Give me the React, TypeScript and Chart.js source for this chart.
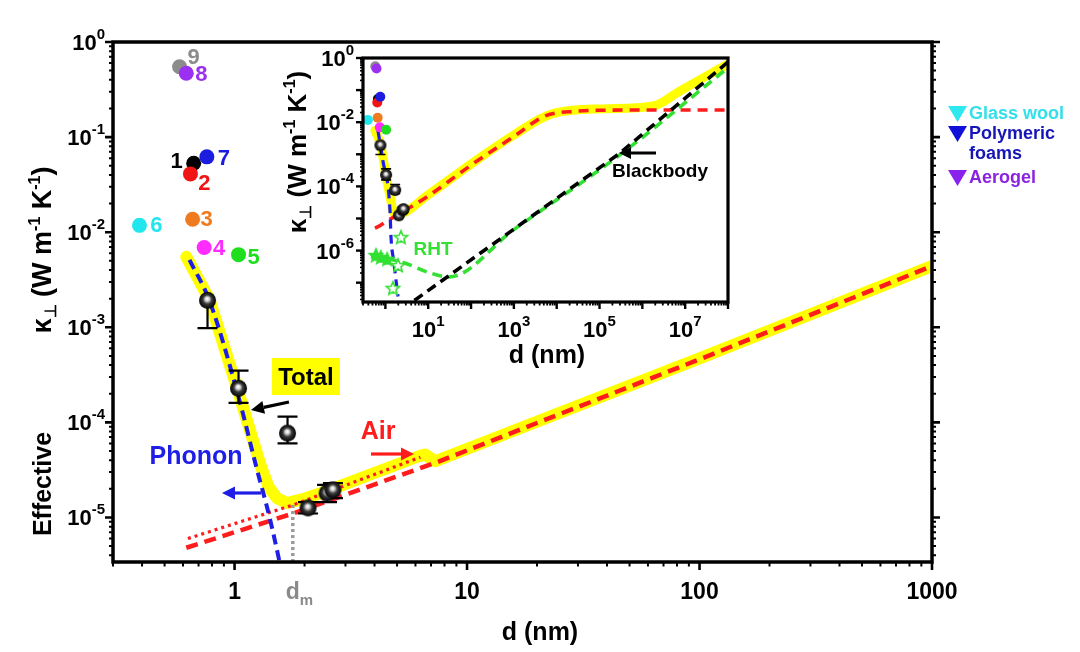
import React, { useEffect, useRef } from 'react';
import { Chart, registerables } from 'chart.js';

Chart.register(...registerables);

const FONT = '"Liberation Sans", Arial, Helvetica, sans-serif';

// ---------------- Main panel data ----------------
// numbered reference materials
const refLabels = ['9', '8', '1', '2', '7', '3', '6', '4', '5'];
const refD = [0.58, 0.62, 0.667, 0.646, 0.76, 0.66, 0.39, 0.74, 1.04];
const refK = [0.55, 0.47, 0.053, 0.041, 0.062, 0.0137, 0.0118, 0.0069, 0.0058];
const refColors = ['#8c8c8c', '#9b30f0', '#000000', '#f01414', '#1c1ce0', '#f07a1e', '#22e6ee', '#ff2cff', '#1ede1e'];

// measured samples (spheres) with error bars
const measD = [0.765, 1.04, 1.69, 2.07, 2.5, 2.65];
const measK = [1.92e-3, 2.28e-4, 7.7e-5, 1.26e-5, 1.8e-5, 1.95e-5];
const measLo = [9.8e-4, 1.6e-4, 6.0e-5, 1.1e-5, 1.45e-5, 1.6e-5];
const measHi = [1.92e-3, 3.5e-4, 1.15e-4, 1.45e-5, 2.2e-5, 2.3e-5];

// total (yellow)
const totalD = [0.62, 0.78, 1.05, 1.2, 1.3, 1.4, 1.52, 1.68, 1.95, 2.5, 6.2, 6.6, 7.3, 100, 1000];
const totalK = [5.5e-3, 1.95e-3, 1.9e-4, 6.5e-5, 3.4e-5, 2.1e-5, 1.6e-5, 1.42e-5, 1.55e-5, 1.9e-5, 4.4e-5, 4.6e-5, 3.9e-5, 4.7e-4, 4.4e-3];
// air (red dashed)
const airD = [0.62, 1.78, 7.4, 100, 1000];
const airK = [4.8e-6, 1.1e-5, 3.8e-5, 4.6e-4, 4.4e-3];
// air, alternative (red dotted)
const airDotD = [0.63, 1.78, 6.3];
const airDotK = [6.0e-6, 1.35e-5, 4.3e-5];
// phonon (blue dashed)
const phononD = [0.64, 0.78, 1.05, 1.24, 1.415, 1.6];
const phononK = [5.1e-3, 1.9e-3, 1.7e-4, 3.4e-5, 1.0e-5, 2.6e-6];
// d_m marker
const DM = 1.78;
const dmK = [1.35e-5, 3.4e-6];

const mainXLabels = [1, 10, 100, 1000];
const mainYExp = [0, -1, -2, -3, -4, -5];

// ---------------- Inset data ----------------
const inTotalD = [0.57, 0.78, 1.05, 1.3, 1.6, 2.0, 10, 100, 1000, 8000, 1.2e5, 1.8e6, 7.6e6, 1e8];
const inTotalK = [5.5e-3, 1.9e-3, 1.9e-4, 4.5e-5, 1.45e-5, 1.4e-5, 5.5e-5, 5e-4, 4e-3, 1.85e-2, 2.6e-2, 3.2e-2, 9.5e-2, 0.65];
const inAirD = [0.57, 0.75, 1.2, 2.0, 10, 100, 1000, 5600, 3e4, 1e5, 1e6, 1e8];
const inAirK = [5e-6, 6e-6, 9e-6, 1.35e-5, 5e-5, 4.6e-4, 3.6e-3, 1.6e-2, 2.2e-2, 2.35e-2, 2.4e-2, 2.4e-2];
const inBlackD = [4.76, 2.95e5, 1e8];
const inBlackK = [2.8e-8, 1.07e-3, 0.75];
const inRhtD = [0.46, 2.3, 10, 30, 1000, 2.95e5, 1e8];
const inRhtK = [6.4e-7, 4.5e-7, 2.1e-7, 1.5e-7, 4.5e-6, 9.5e-4, 0.5];
const inPhononD = [0.67, 0.87, 1.28, 1.35, 1.58, 1.97];
const inPhononK = [5.5e-3, 6.5e-4, 1.8e-5, 2.7e-6, 4.2e-7, 3.7e-8];
const rhtOpenD = [2.3, 1.97, 1.5];
const rhtOpenK = [2.7e-6, 3.6e-7, 7e-8];
const rhtFillD = [0.6, 0.78, 1.1];
const rhtFillK = [7.4e-7, 6.4e-7, 5.6e-7];

const inXExp = [1, 3, 5, 7];
const inYExp = [0, -2, -4, -6];

// ---------------- styles ----------------
const YELLOW = '#ffff00';
const RED = '#ff1c1c';
const BLUE = '#1e1ee6';
const GREEN = '#33e033';
// label offsets (px) for the numbered dots
const refLabelDX = [14, 15, -17, 14, 17, 14, 17, 15, 15];
const refLabelDY = [-10, 1, -2, 9, 1, 0, 0, 0, 2];

function pts(xs: number[], ys: number[]) {
  return xs.map((x, i) => ({ x, y: ys[i] }));
}

type Seg = { t: string; s: number; dy?: number; c?: string };
const font = (s: number) => `bold ${s}px ${FONT}`;

function richWidth(ctx: CanvasRenderingContext2D, segs: Seg[]) {
  let w = 0;
  for (const g of segs) {
    ctx.font = font(g.s);
    w += ctx.measureText(g.t).width;
  }
  return w;
}

function drawRich(ctx: CanvasRenderingContext2D, x: number, y: number, segs: Seg[], align: 'left' | 'center' | 'right', color: string) {
  const w = richWidth(ctx, segs);
  let cx = align === 'left' ? x : align === 'center' ? x - w / 2 : x - w;
  ctx.textAlign = 'left';
  ctx.textBaseline = 'alphabetic';
  for (const g of segs) {
    ctx.font = font(g.s);
    ctx.fillStyle = g.c || color;
    ctx.fillText(g.t, cx, y + (g.dy || 0));
    cx += ctx.measureText(g.t).width;
  }
}

function drawRotated(ctx: CanvasRenderingContext2D, cx: number, cy: number, segs: Seg[], base: number) {
  ctx.save();
  ctx.translate(cx, cy);
  ctx.rotate(-Math.PI / 2);
  drawRich(ctx, 0, base, segs, 'center', '#000');
  ctx.restore();
}

function powSegs(e: number, big: number, small: number, raise: number): Seg[] {
  return [
    { t: '10', s: big },
    { t: e < 0 ? '-' + Math.abs(e) : String(e), s: small, dy: -raise },
  ];
}

function logTicks(min: number, max: number) {
  const out: { v: number; major: boolean }[] = [];
  for (let e = Math.floor(Math.log10(min)); e <= Math.ceil(Math.log10(max)); e++) {
    for (let m = 1; m <= 9; m++) {
      const v = m * Math.pow(10, e);
      if (v >= min * 0.999 && v <= max * 1.001) out.push({ v, major: m === 1 });
    }
  }
  return out;
}

function arrow(ctx: CanvasRenderingContext2D, x1: number, y1: number, x2: number, y2: number, color: string, lw: number, hl: number, hw: number) {
  const a = Math.atan2(y2 - y1, x2 - x1);
  const bx = x2 - hl * Math.cos(a);
  const by = y2 - hl * Math.sin(a);
  ctx.strokeStyle = color;
  ctx.lineWidth = lw;
  ctx.setLineDash([]);
  ctx.beginPath();
  ctx.moveTo(x1, y1);
  ctx.lineTo(bx, by);
  ctx.stroke();
  ctx.fillStyle = color;
  ctx.beginPath();
  ctx.moveTo(x2, y2);
  ctx.lineTo(bx + hw * Math.sin(a), by - hw * Math.cos(a));
  ctx.lineTo(bx - hw * Math.sin(a), by + hw * Math.cos(a));
  ctx.closePath();
  ctx.fill();
}

function makeSphere(r: number) {
  const c = document.createElement('canvas');
  const s = Math.ceil(r * 2) + 2;
  c.width = s;
  c.height = s;
  const g = c.getContext('2d')!;
  const cx = s / 2;
  const cy = s / 2;
  const grad = g.createRadialGradient(cx - r * 0.05, cy - r * 0.2, r * 0.05, cx, cy, r);
  grad.addColorStop(0, '#ffffff');
  grad.addColorStop(0.22, '#cfcfcf');
  grad.addColorStop(0.5, '#3a3a3a');
  grad.addColorStop(1, '#000000');
  g.fillStyle = grad;
  g.beginPath();
  g.arc(cx, cy, r, 0, Math.PI * 2);
  g.fill();
  return c;
}

function makeStar(r: number, filled: boolean) {
  const c = document.createElement('canvas');
  const s = Math.ceil(r * 2) + 4;
  c.width = s;
  c.height = s;
  const g = c.getContext('2d')!;
  const cx = s / 2;
  const cy = s / 2 + 1;
  g.beginPath();
  for (let i = 0; i < 10; i++) {
    const rr = i % 2 === 0 ? r : r * 0.45;
    const ang = -Math.PI / 2 + (i * Math.PI) / 5;
    const px = cx + rr * Math.cos(ang);
    const py = cy + rr * Math.sin(ang);
    if (i === 0) g.moveTo(px, py);
    else g.lineTo(px, py);
  }
  g.closePath();
  g.lineWidth = 1.6;
  g.strokeStyle = GREEN;
  g.fillStyle = filled ? GREEN : '#ffffff';
  g.fill();
  g.stroke();
  return c;
}

function drawErrorBars(chart: any, cap: number, lw: number) {
  const { ctx, scales } = chart;
  const x = scales.x;
  const y = scales.y;
  ctx.save();
  ctx.strokeStyle = '#000';
  ctx.lineWidth = lw;
  ctx.setLineDash([]);
  for (let i = 0; i < measD.length; i++) {
    const px = x.getPixelForValue(measD[i]);
    const pLo = y.getPixelForValue(measLo[i]);
    const pHi = y.getPixelForValue(measHi[i]);
    ctx.beginPath();
    ctx.moveTo(px, pLo);
    ctx.lineTo(px, pHi);
    ctx.moveTo(px - cap, pLo);
    ctx.lineTo(px + cap, pLo);
    if (measHi[i] > measK[i]) {
      ctx.moveTo(px - cap, pHi);
      ctx.lineTo(px + cap, pHi);
    }
    ctx.stroke();
  }
  ctx.restore();
}

const mainPlugin = {
  id: 'mainDecor',
  beforeDatasetDraw(chart: any, args: any) {
    if (chart.data.datasets[args.index].label === 'measured') drawErrorBars(chart, 10, 2.2);
  },
  afterDatasetsDraw(chart: any) {
    const { ctx, scales } = chart;
    ctx.save();
    for (let i = 0; i < refLabels.length; i++) {
      const px = scales.x.getPixelForValue(refD[i]) + refLabelDX[i];
      const py = scales.y.getPixelForValue(refK[i]) + refLabelDY[i];
      ctx.font = font(22);
      ctx.fillStyle = refColors[i];
      ctx.textAlign = 'center';
      ctx.textBaseline = 'middle';
      ctx.fillText(refLabels[i], px, py + 1);
    }
    ctx.restore();
  },
  afterDraw(chart: any) {
    const { ctx, chartArea, scales } = chart;
    const { left, top, right, bottom } = chartArea;
    const x = scales.x;
    const y = scales.y;
    ctx.save();
    ctx.setLineDash([]);
    ctx.strokeStyle = '#000';
    ctx.lineWidth = 3.5;
    ctx.strokeRect(left, top, right - left, bottom - top);
    // x ticks
    for (const t of logTicks(0.3, 1000)) {
      const px = x.getPixelForValue(t.v);
      ctx.lineWidth = t.major ? 2.6 : 2;
      ctx.beginPath();
      ctx.moveTo(px, bottom);
      ctx.lineTo(px, bottom + (t.major ? 8 : 4.5));
      ctx.stroke();
    }
    // y ticks (left & right)
    for (const t of logTicks(3.4e-6, 1)) {
      const py = y.getPixelForValue(t.v);
      ctx.lineWidth = t.major ? 2.6 : 2;
      const len = t.major ? 8 : 4;
      ctx.beginPath();
      ctx.moveTo(left, py);
      ctx.lineTo(left - len, py);
      ctx.moveTo(right, py);
      ctx.lineTo(right + len, py);
      ctx.stroke();
    }
    // x tick labels
    ctx.fillStyle = '#000';
    ctx.font = font(23);
    ctx.textAlign = 'center';
    ctx.textBaseline = 'alphabetic';
    for (const v of mainXLabels) ctx.fillText(String(v), x.getPixelForValue(v), bottom + 37);
    // y tick labels
    for (const e of mainYExp) {
      const py = y.getPixelForValue(Math.pow(10, e));
      drawRich(ctx, left - 8, py + 8, powSegs(e, 22, 15, 11), 'right', '#000');
    }
    // d_m label
    ctx.font = font(23);
    const dW = ctx.measureText('d').width;
    drawRich(ctx, x.getPixelForValue(DM) - dW / 2, bottom + 37, [{ t: 'd', s: 23 }, { t: 'm', s: 15, dy: 6 }], 'left', '#8a8a8a');
    // axis titles
    drawRich(ctx, 540, 640, [{ t: 'd (nm)', s: 25 }], 'center', '#000');
    drawRotated(ctx, 42, 484, [{ t: 'Effective', s: 25 }], 9);
    drawRotated(
      ctx,
      42,
      250,
      [
        { t: '\u03ba', s: 27 },
        { t: '\u22a5', s: 16, dy: 5 },
        { t: ' (W m', s: 27 },
        { t: '-1', s: 16, dy: -11 },
        { t: ' K', s: 27 },
        { t: '-1', s: 16, dy: -11 },
        { t: ')', s: 27 },
      ],
      9
    );
    // annotations
    ctx.fillStyle = YELLOW;
    ctx.fillRect(272, 358, 68, 37);
    drawRich(ctx, 306, 385, [{ t: 'Total', s: 24 }], 'center', '#000');
    arrow(ctx, 289, 402, 251, 410, '#000', 3.2, 13, 6.5);
    drawRich(ctx, 196, 464, [{ t: 'Phonon', s: 25 }], 'center', BLUE);
    arrow(ctx, 261, 493, 222, 493, BLUE, 3.2, 13, 6.5);
    drawRich(ctx, 378, 439, [{ t: 'Air', s: 25 }], 'center', RED);
    arrow(ctx, 371, 454, 414, 454, RED, 3.2, 13, 6.5);
    // right-side legend
    const legend = [
      { c: '#2ee8f0', tc: '#33e0ea', y: 113, lines: ['Glass wool'] },
      { c: '#1010d8', tc: '#1616b8', y: 133, lines: ['Polymeric', 'foams'] },
      { c: '#8a22ee', tc: '#8a22e0', y: 177, lines: ['Aerogel'] },
    ];
    for (const l of legend) {
      ctx.fillStyle = l.c;
      ctx.beginPath();
      ctx.moveTo(948, l.y - 7);
      ctx.lineTo(967, l.y - 7);
      ctx.lineTo(957.5, l.y + 9);
      ctx.closePath();
      ctx.fill();
      l.lines.forEach((t, i) => drawRich(ctx, 969, l.y + 6 + i * 20, [{ t, s: 18 }], 'left', l.tc));
    }
    ctx.restore();
  },
};

const insetPlugin = {
  id: 'insetDecor',
  beforeDatasetDraw(chart: any, args: any) {
    if (chart.data.datasets[args.index].label === 'measured') drawErrorBars(chart, 5, 1.6);
  },
  afterDraw(chart: any) {
    const { ctx, chartArea, scales } = chart;
    const { left, top, right, bottom } = chartArea;
    const x = scales.x;
    const y = scales.y;
    ctx.save();
    ctx.setLineDash([]);
    ctx.strokeStyle = '#000';
    ctx.lineWidth = 3.2;
    ctx.strokeRect(left, top, right - left, bottom - top);
    for (const t of logTicks(0.3, 1e8)) {
      const px = x.getPixelForValue(t.v);
      ctx.lineWidth = t.major ? 2.4 : 1.8;
      ctx.beginPath();
      ctx.moveTo(px, bottom);
      ctx.lineTo(px, bottom + (t.major ? 7 : 3.5));
      ctx.stroke();
    }
    for (const t of logTicks(2.5e-8, 1)) {
      const py = y.getPixelForValue(t.v);
      ctx.lineWidth = t.major ? 2.4 : 1.6;
      ctx.beginPath();
      ctx.moveTo(left, py);
      ctx.lineTo(left - (t.major ? 7 : 3), py);
      ctx.stroke();
    }
    for (const e of inXExp) {
      const px = x.getPixelForValue(Math.pow(10, e));
      drawRich(ctx, px, bottom + 35, powSegs(e, 22, 15, 11), 'center', '#000');
    }
    for (const e of inYExp) {
      const py = y.getPixelForValue(Math.pow(10, e));
      drawRich(ctx, left - 9, py + 8, powSegs(e, 22, 15, 11), 'right', '#000');
    }
    drawRich(ctx, 277, 323, [{ t: 'd (nm)', s: 25 }], 'center', '#000');
    drawRotated(
      ctx,
      27,
      112,
      [
        { t: '\u03ba', s: 26 },
        { t: '\u22a5', s: 16, dy: 5 },
        { t: ' (W m', s: 26 },
        { t: '-1', s: 16, dy: -11 },
        { t: ' K', s: 26 },
        { t: '-1', s: 16, dy: -11 },
        { t: ')', s: 26 },
      ],
      9
    );
    drawRich(ctx, 163, 215, [{ t: 'RHT', s: 19 }], 'center', GREEN);
    drawRich(ctx, 390, 137, [{ t: 'Blackbody', s: 19 }], 'center', '#000');
    arrow(ctx, 386, 113, 349, 113, '#000', 3, 12, 6);
    ctx.restore();
  },
};

function lineDs(label: string, xs: number[], ys: number[], color: string, width: number, dash: number[], order: number, smooth: boolean, cap: CanvasLineCap = 'butt') {
  return {
    label,
    data: pts(xs, ys),
    showLine: true,
    borderColor: color,
    borderWidth: width,
    borderDash: dash,
    borderCapStyle: cap,
    borderJoinStyle: 'round' as const,
    pointRadius: 0,
    cubicInterpolationMode: smooth ? ('monotone' as const) : ('default' as const),
    tension: 0,
    fill: false,
    order,
  };
}

export default function App() {
  const mainRef = useRef<HTMLCanvasElement>(null);
  const insetRef = useRef<HTMLCanvasElement>(null);

  useEffect(() => {
    const sphereBig = makeSphere(8.5);
    const sphereSmall = makeSphere(6);
    const starOpen = makeStar(7, false);
    const starFill = makeStar(7, true);

    const main = new Chart(mainRef.current!, {
      type: 'scatter',
      data: {
        datasets: [
          {
            label: 'refs',
            data: pts(refD, refK),
            pointRadius: 7.5,
            pointBackgroundColor: refColors,
            pointBorderColor: refColors,
            pointBorderWidth: 0,
            order: 0,
          } as any,
          { label: 'measured', data: pts(measD, measK), pointRadius: 8.5, pointStyle: sphereBig, order: 1 } as any,
          lineDs('dm', [DM, DM], dmK, '#9a9a9a', 3.5, [3, 3], 2, false),
          lineDs('phonon', phononD, phononK, BLUE, 4, [10, 6], 3, true),
          lineDs('air', airD, airK, RED, 4.5, [12, 7], 4, false),
          lineDs('airDot', airDotD, airDotK, RED, 3.2, [3, 4], 5, false),
          lineDs('total', totalD, totalK, YELLOW, 12, [], 6, false, 'round'),
        ],
      },
      options: {
        responsive: false,
        animation: false,
        events: [],
        layout: { padding: { left: 0, right: 148, top: 42, bottom: 0 } },
        plugins: { legend: { display: false }, tooltip: { enabled: false } },
        scales: {
          x: {
            type: 'logarithmic',
            min: 0.3,
            max: 1000,
            ticks: { display: false },
            grid: { display: false, drawTicks: false },
            border: { display: false },
            afterFit: (s: any) => {
              s.height = 90;
            },
          },
          y: {
            type: 'logarithmic',
            min: 3.4e-6,
            max: 1,
            ticks: { display: false },
            grid: { display: false, drawTicks: false },
            border: { display: false },
            afterFit: (s: any) => {
              s.width = 113;
            },
          },
        },
      } as any,
      plugins: [mainPlugin],
    });

    const inset = new Chart(insetRef.current!, {
      type: 'scatter',
      data: {
        datasets: [
          {
            label: 'refs',
            data: pts(refD, refK),
            pointRadius: 5,
            pointBackgroundColor: refColors,
            pointBorderColor: refColors,
            pointBorderWidth: 0,
            order: 0,
          } as any,
          { label: 'measured', data: pts(measD, measK), pointRadius: 6, pointStyle: sphereSmall, order: 1 } as any,
          { label: 'rhtOpen', data: pts(rhtOpenD, rhtOpenK), pointRadius: 7, pointStyle: starOpen, order: 2 } as any,
          { label: 'rhtFill', data: pts(rhtFillD, rhtFillK), pointRadius: 7, pointStyle: starFill, order: 2 } as any,
          lineDs('phonon', inPhononD, inPhononK, BLUE, 3.2, [9, 6], 3, true),
          lineDs('black', inBlackD, inBlackK, '#000000', 3.6, [10, 6], 4, false),
          lineDs('rht', inRhtD, inRhtK, GREEN, 3.6, [10, 6], 5, true),
          lineDs('air', inAirD, inAirK, RED, 3.6, [10, 7], 6, true),
          lineDs('total', inTotalD, inTotalK, YELLOW, 9, [], 7, true, 'round'),
        ],
      },
      options: {
        responsive: false,
        animation: false,
        events: [],
        layout: { padding: { left: 0, right: 22, top: 18, bottom: 0 } },
        plugins: { legend: { display: false }, tooltip: { enabled: false } },
        scales: {
          x: {
            type: 'logarithmic',
            min: 0.3,
            max: 1e8,
            ticks: { display: false },
            grid: { display: false, drawTicks: false },
            border: { display: false },
            afterFit: (s: any) => {
              s.height = 68;
            },
          },
          y: {
            type: 'logarithmic',
            min: 2.5e-8,
            max: 1,
            ticks: { display: false },
            grid: { display: false, drawTicks: false },
            border: { display: false },
            afterFit: (s: any) => {
              s.width = 93;
            },
          },
        },
      } as any,
      plugins: [insetPlugin],
    });

    return () => {
      main.destroy();
      inset.destroy();
    };
  }, []);

  return (
    <div style={{ position: 'fixed', left: 0, top: 0, width: 1080, height: 652, background: '#ffffff', overflow: 'hidden' }}>
      <canvas ref={mainRef} width={1080} height={652} style={{ position: 'absolute', left: 0, top: 0, width: 1080, height: 652 }} />
      <canvas ref={insetRef} width={480} height={330} style={{ position: 'absolute', left: 270, top: 40, width: 480, height: 330 }} />
    </div>
  );
}
